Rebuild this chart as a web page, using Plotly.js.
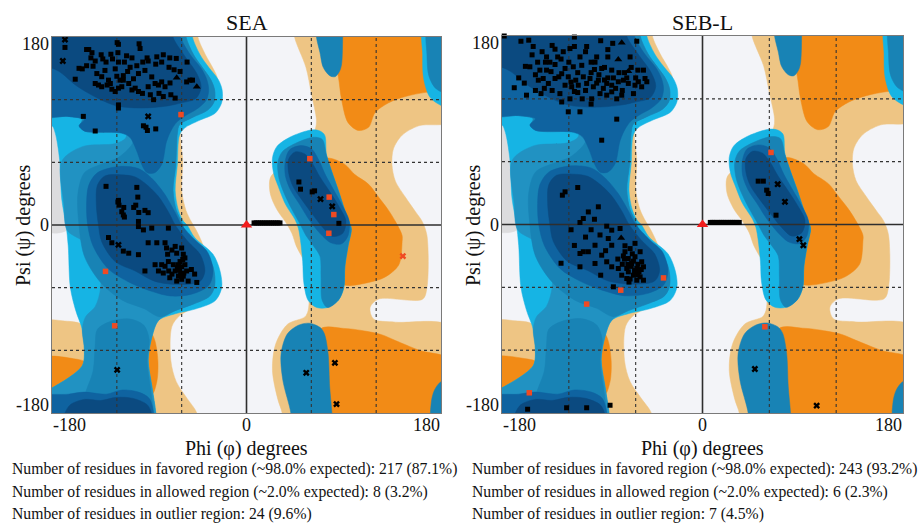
<!DOCTYPE html>
<html><head><meta charset="utf-8">
<script src="https://cdn.plot.ly/plotly-3.0.1.min.js"></script>
<style>html,body{margin:0;padding:0;background:#fff}#chart{width:919px;height:524px}</style>
</head><body><div id="chart"></div>
<script>
// ---------- text ----------
const panelTitles = ['SEA', 'SEB-L'];
const tickVals = [-180, 0, 180];
const tickLabels = ['-180', '0', '180'];
const gridVals = [-120, -60, 60, 120];
const statsSEA = [
  'Number of residues in favored region (~98.0% expected): 217 (87.1%)',
  'Number of residues in allowed region (~2.0% expected): 8 (3.2%)',
  'Number of residues in outlier region: 24 (9.6%)'];
const statsSEB = [
  'Number of residues in favored region (~98.0% expected): 243 (93.2%)',
  'Number of residues in allowed region (~2.0% expected): 6 (2.3%)',
  'Number of residues in outlier region: 7 (4.5%)'];

// ---------- background region outlines [phi, psi] ----------
const grayPatch = [[-190,97],[-165,97],[-165,-4],[-190,-4]];
const tanL1 = [[-120,190],[-45,190],[-45,180],[-38,163],[-31,150],[-27,140],[-31,128],[-36,114],[-45,103],[-60,92],[-59,60],[-60,33],[-56,14],[-51,3],[-46,-6],[-40,-20],[-35,-40],[-35,-60],[-45,-76],[-62,-87],[-69,-97],[-70,-130],[-65,-150],[-55,-166],[-46,-180],[-46,-190],[-120,-190]];
const tanL2 = [[-190,-93],[-168,-92],[-153,-95],[-145,-110],[-145,-140],[-190,-145]];
const tanR = [[44.5,190],[190,190],[190,100],[159.5,95],[144,86],[136,73],[134.6,58],[137.8,42],[147,26.7],[156.4,12.7],[162.6,3.4],[167,-10],[167,-60],[163,-71],[122,-71],[114.4,-79],[117.5,-90],[137.8,-93],[190,-98],[190,-190],[33,-190],[33,-180],[29,-167],[24,-139],[27,-114],[38,-95],[54,-88],[57,-82],[58,-70],[56,-40],[50,-28],[46,-20],[42,-8],[36,3],[28,15],[22,30],[22,45],[30,55],[40,70],[60,85],[64,93],[64.7,101],[60,126],[55,151],[44.5,180]];
const orangeL1 = [[-89,-103],[-85,-110],[-82,-130],[-83,-150],[-88,-163],[-98,-160],[-98,-105]];
const orangeL2 = [[-190,-128],[-160,-128],[-148,-132],[-148,-145],[-190,-170]];
const orangeR1 = [[75,190],[190,190],[190,129],[166,127],[147,123],[131.5,117],[119,107.6],[113,93.6],[103.5,90.5],[94,98],[88,120],[85,142],[80,165],[75,180]];
const orangeR2 = [[68,62],[77,64],[91,58],[100,48.5],[113,39],[122,27],[131.5,14],[138,3],[144,-10],[144,-16],[141,-38],[128,-50],[113,-55],[94,-58],[85,-55],[80,-30],[85,0],[75,30],[65,50]];
const orangeR3 = [[68,-100],[90,-99],[106.7,-101],[125,-105],[137.8,-110.6],[160,-120],[190,-130],[190,-190],[68,-190]];

const cyanL = [[-190,190],[-50,190],[-50,180],[-43,163],[-35,151],[-26,139],[-22.5,129],[-23,117],[-29,107],[-44,100],[-57,93],[-62,86],[-64,58],[-66,33],[-63,14],[-58,3],[-55,0],[-48,-12],[-31,-28],[-24.5,-44],[-23,-60],[-29,-72.5],[-47.5,-80.5],[-66,-85],[-81.5,-91.5],[-87.5,-107],[-91,-129],[-87.5,-155],[-84,-180],[-84,-190],[-190,-190],[-190,-160],[-180,-156],[-152,-135],[-150,-120],[-152,-100],[-158,-82],[-163,-60],[-165,-20],[-167,0],[-171,25],[-173,63],[-177,88],[-180,95],[-190,96]];
const cyanLH = [[60,91],[68,90],[72.4,86],[74,67],[78.7,51.6],[85,33],[91,14],[95,3],[97,-4],[94,-20],[91,-40],[90,-60],[85,-72],[75,-79],[65,-79],[57,-72],[53,-55],[52,-35],[50,-15],[48,-3],[45,5],[36,20],[29,38],[25,50],[24,64],[28,75],[40,84]];
const cyanRTop = [[164,190],[163,163],[164,140],[170,122],[181,114],[190,112],[190,190]];

const lightTealL = [[-190,190],[-56,190],[-56,180],[-49,163],[-41,151],[-33,139],[-29.5,129],[-30,118],[-36,110],[-50,103],[-62,96],[-64,88],[-65.5,58],[-68,33],[-65,14],[-60,3],[-56,-8],[-40,-24],[-31,-40],[-29.5,-58],[-34,-68],[-50,-76],[-66,-82],[-81.5,-91.5],[-87.5,-107],[-91,-129],[-87.5,-155],[-84,-180],[-84,-190],[-190,-190],[-190,-160],[-180,-156],[-152,-135],[-150,-120],[-152,-100],[-149,-88],[-140,-78],[-135,-60],[-136,-40],[-142,-25],[-152,-15],[-166,-5],[-169,20],[-171,61],[-152,75],[-121,78],[-112,83],[-111,89],[-118,89],[-150,90],[-154,95],[-152,101],[-165,104],[-190,105]];

const tealL = [[-190,190],[-56,190],[-56,180],[-49,163],[-41,151],[-33,139],[-29.5,129],[-30,118],[-36,110],[-50,103],[-62,96],[-64,88],[-65.5,58],[-68,33],[-65,14],[-60,3],[-56,-8],[-40,-24],[-31,-40],[-29.5,-58],[-34,-68],[-50,-76],[-66,-82],[-80,-88],[-95,-80],[-115,-72],[-135,-55],[-150,-30],[-155,0],[-156,30],[-150,50],[-135,58],[-118,65],[-105,80],[-112,89],[-118,89],[-150,90],[-154,95],[-152,101],[-165,104],[-190,105]];
const tealLump = [[-138,-100],[-125,-92],[-108,-90],[-95,-96],[-90,-110],[-92,-130],[-89,-155],[-86,-180],[-86,-190],[-150,-190],[-150,-165],[-142,-140],[-140,-115]];
const tealLH = [[62,84],[70,82],[74,67],[78.7,51.6],[85,33],[91,14],[95,3],[97,-4],[94,-20],[91,-40],[90,-60],[85,-72],[75,-79],[70,-72],[69,-50],[68,-30],[62,-20],[55,-10],[50,0],[42,15],[35,30],[30,45],[29,60],[33,70],[45,78]];
const tealBotR = [[41,-190],[41,-180],[33.6,-148.5],[32,-123],[38,-104],[48,-96],[58,-94],[68,-98],[72,-104],[75.5,-123],[77,-155],[79,-180],[79,-190]];
const tealTopR = [[64.7,190],[64.7,180],[68,165],[71,151],[77,143],[82,142],[86,147],[88,154],[89,180],[89,190]];
const tealRTop = [[168,190],[167,163],[169,142],[176,130],[190,126],[190,190]];
const tealRBot = [[190,-148],[180,-150],[174,-158],[171,-170],[172,-190],[190,-190]];

const medLUp = [[-190,190],[-61,190],[-61,180],[-52,163],[-42,150],[-37,140],[-35,130],[-37,120],[-46,111],[-56,105],[-64,99],[-69,92],[-74,80],[-78.5,58],[-85,50],[-92,50],[-97,58],[-102,72],[-108,84],[-116,88],[-135,89],[-150,90],[-155,95],[-150,101],[-165,104],[-190,106]];
const medLAlpha = [[-146,38],[-138,50],[-118,56],[-100,54],[-88,45],[-76,30],[-66,12],[-60,0],[-48,-14],[-36,-26],[-31,-44],[-35,-58],[-50,-66],[-70,-68],[-92,-62],[-110,-54],[-128,-42],[-142,-20],[-147,0],[-148,20]];
const medLBot = [[-190,-190],[-190,-165],[-165,-162],[-150,-160],[-130,-162],[-115,-158],[-100,-160],[-90,-166],[-86,-180],[-86,-190]];
const medLH = [[36,62],[40,72],[50,76],[60,73],[67,62],[73,48],[81,33],[89,18],[95,4],[94,-10],[88,-18],[78,-17],[68,-8],[58,5],[49,20],[41,33],[36,47]];

const navyLBeta = [[-190,190],[-68,190],[-68,180],[-58,163],[-46,145],[-42,132],[-47,121],[-60,117],[-73,114],[-98,112],[-120,114],[-135,120],[-157,133],[-172,146],[-180,150],[-190,151]];
const navyLAlpha = [[-138,38],[-131,47],[-115,48],[-103,46],[-94,40],[-82,28],[-72,12],[-66,0],[-54,-16],[-43,-28],[-38.5,-44],[-43,-54],[-60,-57],[-84.6,-54],[-103,-44],[-121.5,-35],[-134,-16],[-137,0],[-139,20]];
const navyLBot = [[-170,-190],[-168,-180],[-163,-172],[-150,-167],[-135,-168],[-120,-165],[-105,-166],[-92,-172],[-88,-180],[-88,-190]];
const navyLH = [[39,63],[45,70],[54,68],[61,59],[68,46],[77,32],[86,17],[92,4],[89,-8],[80,-11],[72,-4],[62,9],[52,23],[43,37],[39,50]];

const regionColors = {gray:'#dcdcde', tan:'#eec584', orange:'#f28b16', cyan:'#16b4e4', lteal:'#2192c2', teal:'#1883b5', med:'#0f63a0', navy:'#0b4a80'};
const regionLayers = [
  ['gray', [grayPatch]],
  ['tan', [tanL1, tanL2, tanR]],
  ['orange', [orangeL1, orangeL2, orangeR1, orangeR2, orangeR3]],
  ['cyan', [cyanL, cyanLH, cyanRTop]],
  ['lteal', [lightTealL]],
  ['teal', [tealL, tealLump, tealLH, tealBotR, tealTopR, tealRTop, tealRBot]],
  ['med', [medLUp, medLAlpha, medLBot, medLH]],
  ['navy', [navyLBeta, navyLAlpha, navyLBot, navyLH]]
];

// ---------- residues: SEA ----------
const seaSqPhi = [-168,-118.5,-99.4,-98.5,-148,-146,-143,-134.5,-125.5,-119,-111,-106,-92,-83,-77,-71,-65,-55,-152,-148,-144,-140,-133,-130,-124,-118.5,-113,-107.7,-101.5,-96,-91,-84,-78.5,-71.7,-67,-61.5,-158.5,-155,-142,-138.5,-134,-131,-127.7,-121.5,-120,-117,-114,-110,-104.6,-100,-94,-87.7,-84.6,-81.5,-78.5,-75.4,-70.8,-55.4,-52.3,-50,-140,-137,-134,-129,-126,-124.6,-121.5,-118.5,-115.4,-109,-106,-103,-100,-96.3,-91,-89,-86,-81,-77,-70,-66,-118.5,-118.5,-114,-119.7,
 -151,-140,-95.4,-93,-91.7,-84,
 -130,-101.5,-100.6,-118.5,-118,-102.5,-94,-91,-115.4,-114,-100,-119,-113.6,-104.4,-99.7,-113,
 -100,-95.4,-87.7,-72.3,-127.7,-124.6,-114,-109,-100,-91,-83,-75.4,-74,-73,-69,-66,-64.6,-60,-58.5,-61.5,-57,-63,-67.7,-72.3,-75.4,-78.5,-84.6,-81.5,-77,-72,-69,-66,-63,-58.5,-55.4,-51,-48,-46,-54,-60,-64.6,-71,-94,-60,-62,-58,-64,-57,-61,-59,
 48.5,50,60.8,63,85.5,
 7,9,11,13,15,17,19,21,23,25,27,29,31];
const seaSqPsi = [170,173,173.5,169,168,168,165,163,163.5,165,162,160,160,161,163,160,159.5,156,149.5,152.5,160,157,159,156,159,156,156,151,152.5,156,157,154,156,151,148.6,147,139.6,150,152,145,142,148,138.7,149.5,142.4,138.7,143,147,140,145,148,141.8,135.5,134,137,132.4,136,137,138.7,138.7,135.5,134,132.4,134,135.5,130,127.8,131,132.4,135.5,129.3,131,127.8,126,132.4,124.7,120,126,123,124.7,121.5,115,112,138.7,174.6,
 104,90,95,93.6,90.5,92,
 37,36,26.7,23.6,19,19,14,11.8,12.7,9.6,3.4,22,16.8,16.8,12,7.6,
 -1.5,-4.7,-3,-3,-12,-17,-25,-27,-28.4,-17,-17,-17,-22,-28,-24,-20.5,-27,-22,-28,-35,-31.5,-38,-38,-35,-39.5,-38,-38,-44,-46,-44,-47,-44,-49,-49,-44,-42.6,-47,-55,-53.7,-52,-53.7,-50.5,-44,-40,-43,-46,-41,-38,-47,-33,
 41.2,34.3,31.7,32.7,1.6,
 2,2,2,2,2,2,2,2,2,2,2,2,2];
const seaXPhi = [-168,-170,-91,-118.5,-119.7,68.5,79.3,81.8,55.3,83.3];
const seaXPsi = [177.5,157,104,-19,-138.7,24.8,17.8,-132,-141.5,-171.5];
const seaTriPhi = [-64.6,-46];
const seaTriPsi = [141,132.4];
const seaRedPhi = [-60.6,-130.5,-122,58.6,76.5,80.8,76.2];
const seaRedPsi = [105.7,-44.4,-96.5,63.5,26.7,10,-7.9];
const seaRedXPhi = [144.7];
const seaRedXPsi = [-29.8];
const seaGlyPhi = [0];
const seaGlyPsi = [0];

// ---------- residues: SEB-L ----------
const sebSqPhi = [-178,-163,-156,-115,-91.4,-80.6,-59,-152,-144,-135,-132.4,-119,-127,-153,-159,-155,-148,-141,-132.4,-123.4,-116,-108.4,-96.5,-90.5,-81.5,-58,-53,-57.6,-51.6,-169,-158,-147.4,-143,-138.4,-132.4,-126.4,-123.4,-120.5,-117.4,-113.8,-111.5,-107,-104,-101,-98,-93.5,-89,-86,-81.5,-75.6,-71,-66.6,-60.6,-54.6,-50,-126.4,-119,-110,-120.5,-99.5,-86,-81.5,-77,-72.5,-77,-90.5,-146,-140,-130,-110,-100,-95,-85,-70,-64,-105,-92,-135,-115,-128,
 -165,-160,-150,-145,-140,-137,-125,-120,-112,-105,-100,-97,-93,-88,-85,-80,-78,-75,-72,-68,-65,-62,-100,-108,-95,-88,-118,-129,-136,-142,-150,-115,-104,-85,-112,-60,
 -112,-123.4,-125.8,-93.5,-102.5,-107,-110,-86,-81.5,-74,-84.6,-96.5,-81.5,-69.6,-65,-60.6,-102.5,-107,-127,-110,-90.5,-86,-81.5,-69.6,-66.6,-63.6,-60.6,-56,-54.6,-53,-59,-66.6,-62,-68,-59,-53,-75.6,-72.5,-80,-91.4,-96.5,-110,-64,-62,-57,-67,-70,-58,-65,-61,-56,
 -71,-68,-63,-58,-55,-66,-72,-76,-87,-92,-100,-105,-115,-118,-97,
 -157,-122,-104,-83,
 50,54.6,57.6,59,66,
 7,9,11,13,15,17,19,21,23,25,27,29,31,33];
const sebSqPsi = [180,175,176,179,175.5,173,175,170,165,171,167.4,168,158,162,151,150.6,155,155,152.8,149,150.6,152,155,149,147.4,147.4,147.4,136.3,139.4,130.6,123.5,137.8,139.4,134.7,139.4,144,133,141,131.5,137.8,133,141,134.7,139.4,131.5,137.8,130,134.7,133,136.3,137.8,134.7,133,131.5,136.3,117,120,107.6,107.6,120,123.5,126.7,120,123.5,100.6,80.5,147.4,147.4,160,160,145,160,140,145,150,128,125,128,127,125,
 140,135,128,125,160,155,165,155,145,165,155,148,143,150,160,140,130,145,128,140,160,125,115,120,135,138,136,141,146,130,143,170,170,167,126,140,
 35.3,31.2,28,16.9,12,5.7,1.9,-1.6,-5.4,-3.8,-13.4,-19.8,-19.8,-20.3,-23,-18,-26,-26,-37,-27.7,-29.3,-35.6,-40.4,-26,-32.5,-37.2,-30.8,-26,-35.6,-40.4,-42,-45.2,-48.4,-51.6,-53.2,-53.2,-42,-48.4,-59.5,-48.4,-37.2,-40.4,-40,-35,-45,-38,-33,-38,-52,-44,-50,
 -30,-42,-28,-48,-43,-55,-38,-33,-25,-10,-5,-12,-20,-5,5,
 -176.4,-175,-175,-172.6,
 41.4,41.4,32.8,29.6,8.9,
 2,2,2,2,2,2,2,2,2,2,2,2,2,2];
const sebXPhi = [67.5,74,87,90.5,47,102.5];
const sebXPsi = [38.5,21.7,-14,-19.8,-138,-173];
const sebTriPhi = [-72.5,-75.6,-66.6,-73];
const sebTriPsi = [173.5,157.6,146.4,-13];
const sebRedPhi = [61.5,-35,-73.4,-104,-155.5,56];
const sebRedPsi = [68.8,-51,-62.7,-76,-160.7,-97.7];
const sebRedXPhi = [];
const sebRedXPsi = [];
const sebGlyPhi = [0];
const sebGlyPsi = [0];

// ---------- build ----------
const W = 919, H = 524;
const FONT = "'Liberation Serif', 'Times New Roman', serif";
const traces = [];
function closeRing(p){ return p.concat([p[0]]); }
function addPanel(xa, ya, pts) {
  regionLayers.forEach(([key, polys]) => {
    polys.forEach(poly => {
      const r = closeRing(poly);
      traces.push({type:'scatter', mode:'lines', x:r.map(p=>p[0]), y:r.map(p=>p[1]),
        fill:'toself', fillcolor:regionColors[key],
        line:{width:0.5, color:regionColors[key], shape:'spline', smoothing:0.9},
        hoverinfo:'skip', showlegend:false, xaxis:xa, yaxis:ya});
    });
  });
  gridVals.forEach(v => {
    traces.push({type:'scatter', mode:'lines', x:[v,v], y:[-180,180], line:{color:'#333', width:1.1, dash:'3px,3px'}, hoverinfo:'skip', showlegend:false, xaxis:xa, yaxis:ya});
    traces.push({type:'scatter', mode:'lines', x:[-180,180], y:[v,v], line:{color:'#333', width:1.1, dash:'3px,3px'}, hoverinfo:'skip', showlegend:false, xaxis:xa, yaxis:ya});
  });
  traces.push({type:'scatter', mode:'lines', x:[0,0], y:[-180,180], line:{color:'#2e2e2e', width:1.6}, hoverinfo:'skip', showlegend:false, xaxis:xa, yaxis:ya});
  traces.push({type:'scatter', mode:'lines', x:[-180,180], y:[0,0], line:{color:'#2e2e2e', width:1.6}, hoverinfo:'skip', showlegend:false, xaxis:xa, yaxis:ya});
  const mk = (x, y, sym, size, color) => traces.push({type:'scatter', mode:'markers', x:x, y:y,
    marker:{symbol:sym, size:size, color:color, line:{width:0}}, showlegend:false, xaxis:xa, yaxis:ya, cliponaxis:false});
  mk(pts.sqPhi, pts.sqPsi, 'square', 5, '#000');
  mk(pts.xPhi, pts.xPsi, 'x', 6, '#000');
  mk(pts.triPhi, pts.triPsi, 'triangle-up', 7, '#000');
  mk(pts.redPhi, pts.redPsi, 'square', 5.5, '#f04a22');
  mk(pts.redXPhi, pts.redXPsi, 'x', 6, '#f04a22');
  mk(pts.glyPhi, pts.glyPsi, 'triangle-up', 10, '#f21d1d');
}
addPanel('x', 'y', {sqPhi:seaSqPhi, sqPsi:seaSqPsi, xPhi:seaXPhi, xPsi:seaXPsi, triPhi:seaTriPhi, triPsi:seaTriPsi, redPhi:seaRedPhi, redPsi:seaRedPsi, redXPhi:seaRedXPhi, redXPsi:seaRedXPsi, glyPhi:seaGlyPhi, glyPsi:seaGlyPsi});
addPanel('x2', 'y2', {sqPhi:sebSqPhi, sqPsi:sebSqPsi, xPhi:sebXPhi, xPsi:sebXPsi, triPhi:sebTriPhi, triPsi:sebTriPsi, redPhi:sebRedPhi, redPsi:sebRedPsi, redXPhi:sebRedXPhi, redXPsi:sebRedXPsi, glyPhi:sebGlyPhi, glyPsi:sebGlyPsi});

const panels = [
  {xa:'x', ya:'y', left:52, right:441, top:37, bottom:413},
  {xa:'x2', ya:'y2', left:502, right:903, top:36, bottom:413}
];
const layout = {
  width:W, height:H, margin:{l:0,r:0,t:0,b:0}, paper_bgcolor:'#ffffff', plot_bgcolor:'#f3f4f8',
  showlegend:false, font:{family:FONT, color:'#111'}, annotations:[], hovermode:false
};
panels.forEach((p, i) => {
  const sfx = i === 0 ? '' : '2';
  const axBase = {range:[-180,180], showgrid:false, zeroline:false, showticklabels:false, ticks:'',
    showline:true, mirror:true, linecolor:'#7a7a7a', linewidth:1, fixedrange:true};
  layout['xaxis'+sfx] = Object.assign({}, axBase, {domain:[p.left/W, p.right/W], anchor:'y'+sfx});
  layout['yaxis'+sfx] = Object.assign({}, axBase, {domain:[1-p.bottom/H, 1-p.top/H], anchor:'x'+sfx});
  const xr = p.xa, yr = p.ya;
  tickVals.forEach((v, k) => {
    layout.annotations.push({xref:xr, yref:'paper', x:v, y:1-425/H, text:tickLabels[k], showarrow:false,
      xanchor: k===0?'left':(k===2?'right':'center'), yanchor:'middle', borderpad:0, font:{size:18, family:FONT, color:'#111'}});
    layout.annotations.push({xref:'paper', yref:yr, x:(p.left-2)/W, y:v, text:tickLabels[k], showarrow:false,
      xanchor:'right', yanchor: k===2?'top':(k===0?'bottom':'middle'), yshift: k===2?4:(k===0?-3:0), borderpad:0,
      font:{size:18, family:FONT, color:'#111'}});
  });
  const cx = (p.left + p.right) / 2;
  layout.annotations.push({xref:'paper', yref:'paper', x:cx/W, y:1-23/H, text:panelTitles[i], showarrow:false,
    xanchor:'center', yanchor:'middle', font:{size:22, family:FONT, color:'#111'}});
  layout.annotations.push({xref:'paper', yref:'paper', x:cx/W, y:1-448/H, text:'Phi (φ) degrees', showarrow:false,
    xanchor:'center', yanchor:'middle', borderpad:0, font:{size:20, family:FONT, color:'#111'}});
  layout.annotations.push({xref:'paper', yref:'paper', x:(p.left-29)/W, y:1-225/H, text:'Psi (ψ) degrees', showarrow:false,
    textangle:-90, xanchor:'center', yanchor:'middle', font:{size:20, family:FONT, color:'#111'}});
});
[statsSEA, statsSEB].forEach((lines, i) => {
  const x0 = i === 0 ? 10 : 470;
  lines.forEach((t, k) => {
    layout.annotations.push({xref:'paper', yref:'paper', x:x0/W, y:1-(469+k*22.5)/H, text:t, showarrow:false,
      xanchor:'left', yanchor:'middle', font:{size:15.7, family:FONT, color:'#111'}});
  });
});
Plotly.newPlot('chart', traces, layout, {staticPlot:true, displayModeBar:false});
</script></body></html>
